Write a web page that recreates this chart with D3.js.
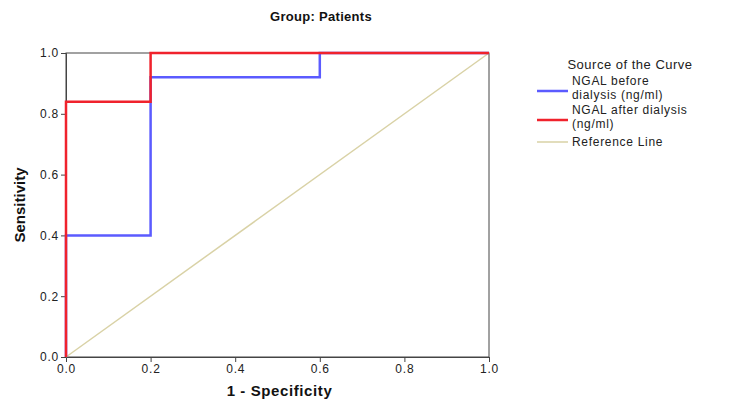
<!DOCTYPE html>
<html><head><meta charset="utf-8">
<script src="https://cdn.jsdelivr.net/npm/d3@7"></script>
<style>body{margin:0;background:#fff;}svg{display:block;font-family:"Liberation Sans",Arial,sans-serif;}</style>
</head><body>
<svg id="c" width="732" height="403"></svg>
<script>
const ticks = [0.0, 0.2, 0.4, 0.6, 0.8, 1.0];
const beforeFPR = [0, 0, 0.2, 0.2, 0.6, 0.6, 1.0];
const beforeTPR = [0, 0.4, 0.4, 0.92, 0.92, 1.0, 1.0];
const afterFPR = [0, 0, 0.2, 0.2, 1.0];
const afterTPR = [0, 0.84, 0.84, 1.0, 1.0];
const refFPR = [0, 1];
const refTPR = [0, 1];
const seriesNames = ["NGAL before|dialysis (ng/ml)", "NGAL after dialysis|(ng/ml)", "Reference Line"];
const colors = ["#5b5bff", "#f0222c", "#d9d2a6"];

const svg = d3.select("#c");
const x = d3.scaleLinear().domain([0,1]).range([66,489]);
const y = d3.scaleLinear().domain([0,1]).range([357,53]);

// frame
svg.append("rect").attr("x",x(0)).attr("y",y(1)).attr("width",x(1)-x(0)).attr("height",y(0)-y(1))
  .attr("fill","none").attr("stroke","#444").attr("stroke-width",1);

const fmt = d3.format(".1f");
const xa = svg.append("g").attr("transform",`translate(0,${y(0)})`)
  .call(d3.axisBottom(x).tickValues(ticks).tickFormat(fmt).tickSize(5).tickPadding(2));
const ya = svg.append("g").attr("transform",`translate(${x(0)},0)`)
  .call(d3.axisLeft(y).tickValues(ticks).tickFormat(fmt).tickSize(5).tickPadding(2));
[xa,ya].forEach(a=>{
  a.select(".domain").attr("stroke","#444");
  a.selectAll(".tick line").attr("stroke","#444");
  a.selectAll(".tick text").attr("fill","#222").style("font-size","12px").style("letter-spacing","0.8px")
   .style("font-family","'Liberation Sans',Arial,sans-serif");
});

const line = d3.line().x(d=>x(d[0])).y(d=>y(d[1]));
const zip = (a,b)=>a.map((v,i)=>[v,b[i]]);
svg.append("path").datum(zip(refFPR,refTPR)).attr("d",line).attr("fill","none").attr("stroke",colors[2]).attr("stroke-width",1.5);
svg.append("path").datum(zip(beforeFPR,beforeTPR)).attr("d",line).attr("fill","none").attr("stroke",colors[0]).attr("stroke-width",2.5);
svg.append("path").datum(zip(afterFPR,afterTPR)).attr("d",line).attr("fill","none").attr("stroke",colors[1]).attr("stroke-width",2.5);

// titles
svg.append("text").attr("x",321).attr("y",21).attr("text-anchor","middle")
  .style("font-weight","bold").style("font-size","13px").style("letter-spacing","0.3px").attr("fill","#111").text("Group: Patients");
svg.append("text").attr("x",x(0.5)+2).attr("y",396).attr("text-anchor","middle")
  .style("font-weight","bold").style("font-size","15px").style("letter-spacing","0.6px").attr("fill","#111").text("1 - Specificity");
svg.append("text").attr("transform",`translate(25,${(y(0)+y(1))/2}) rotate(-90)`).attr("text-anchor","middle")
  .style("font-weight","bold").style("font-size","15px").attr("fill","#111").text("Sensitivity");

// legend
const lg = svg.append("g");
lg.append("text").attr("x",630).attr("y",69).attr("text-anchor","middle").style("font-size","13px")
  .style("letter-spacing","0.5px").attr("fill","#222").text("Source of the Curve");
const lineY = [91, 120, 142];
const textY = [[85,99],[113.5,127.5],[146]];
seriesNames.forEach((n,i)=>{
  lg.append("line").attr("x1",537).attr("x2",568).attr("y1",lineY[i]).attr("y2",lineY[i])
    .attr("stroke",colors[i]).attr("stroke-width",i<2?2.5:1.5);
  n.split("|").forEach((t,j)=>{
    lg.append("text").attr("x",572).attr("y",textY[i][j]).style("font-size","12px").style("letter-spacing","0.7px")
      .attr("fill","#222").text(t);
  });
});
</script>
</body></html>
